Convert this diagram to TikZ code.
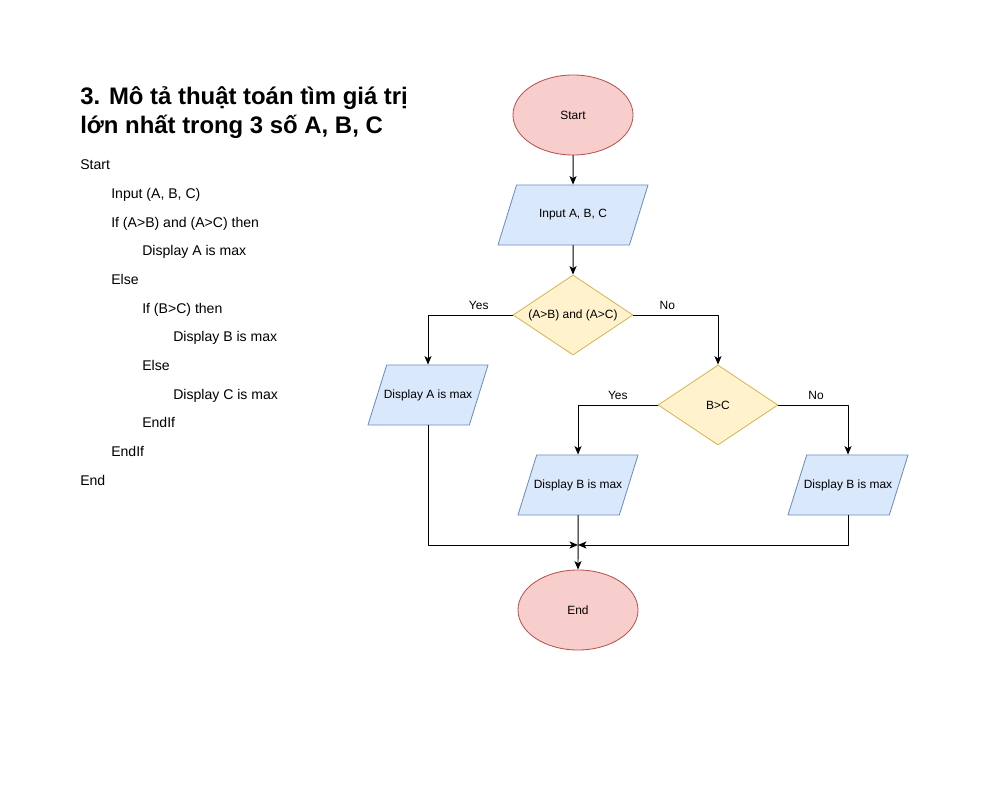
\documentclass[tikz,border=0pt]{standalone}
\usepackage{fontspec}
\setmainfont{Liberation Sans}
\usetikzlibrary{shapes.geometric,arrows.meta}
\definecolor{termfill}{HTML}{F8CECC}
\definecolor{termline}{HTML}{B85450}
\definecolor{iofill}{HTML}{DAE8FC}
\definecolor{ioline}{HTML}{6C8EBF}
\definecolor{testfill}{HTML}{FFF2CC}
\definecolor{testline}{HTML}{D6B656}
\begin{document}
\begin{tikzpicture}[x=0.025cm,y=-0.025cm,font=\fontsize{8.5}{10}\selectfont,line cap=round,line join=round,
		>={Stealth[length=6pt,width=5pt,inset=1.5pt]},
		term/.style={ellipse,draw=termline,fill=termfill,line width=0.6pt,minimum width=3cm,minimum height=2cm},
		io/.style={trapezium,trapezium left angle=72,trapezium right angle=108,trapezium stretches body=true,inner ysep=16.5pt,inner xsep=-2.5pt,draw=ioline,fill=iofill,line width=0.6pt,minimum width=3.75cm,minimum height=1.5cm},
		showbox/.style={io,minimum width=3cm},
		test/.style={diamond,aspect=1.5,inner sep=0pt,draw=testline,fill=testfill,line width=0.6pt,minimum width=3cm,minimum height=2cm},
		flow/.style={->,line width=0.7pt},
		code/.style={anchor=base west,inner sep=0pt,font=\fontsize{10}{12}\selectfont}]
		\useasboundingbox (0,0) rectangle (1000,800);
		% title and pseudocode
		\node[code,font=\fontsize{17}{20}\selectfont\bfseries] (title1) at (80,105) {3. Mô tả thuật toán tìm giá trị};
		\node[code,font=\fontsize{17}{20}\selectfont\bfseries] (title2) at (80,134) {lớn nhất trong 3 số A, B, C};
		\foreach \x/\t [count=\i from 0] in {80/Start,111/{Input (A, B, C)},111/{If (A>B) and (A>C) then},142/{Display A is max},111/Else,142/{If (B>C) then},173/{Display B is max},142/Else,173/{Display C is max},142/EndIf,111/EndIf,80/End}
			\node[code] (line\i) at (\x,170+28.65*\i) {\t};
		% flowchart
		\node[term] (start) at (573,115) {Start};
		\node[io] (input) at (573,215) {Input A, B, C};
		\node[test] (cond1) at (573,315) {(A>B) and (A>C)};
		\node[showbox] (dispA) at (428,395) {Display A is max};
		\node[test] (cond2) at (718,405) {B>C};
		\node[showbox] (dispB) at (578,485) {Display B is max};
		\node[showbox] (dispC) at (848,485) {Display B is max};
		\node[term] (stop) at (578,610) {End};
		\coordinate (join) at (578,545);
		\draw[flow] (start) -- (input);
		\draw[flow] (input) -- (cond1);
		\draw[flow] (cond1.west) -| node[pos=.2,above]{Yes} (dispA.north);
		\draw[flow] (cond1.east) -| node[pos=.2,above]{No} (cond2.north);
		\draw[flow] (cond2.west) -| node[pos=.25,above]{Yes} (dispB.north);
		\draw[flow] (cond2.east) -| node[pos=.27,above]{No} (dispC.north);
		\draw[flow] (dispA.south) |- (join);
		\draw[flow] (dispC.south) |- (join);
		\draw[flow] (dispB) -- (stop);
\end{tikzpicture}
\end{document}
